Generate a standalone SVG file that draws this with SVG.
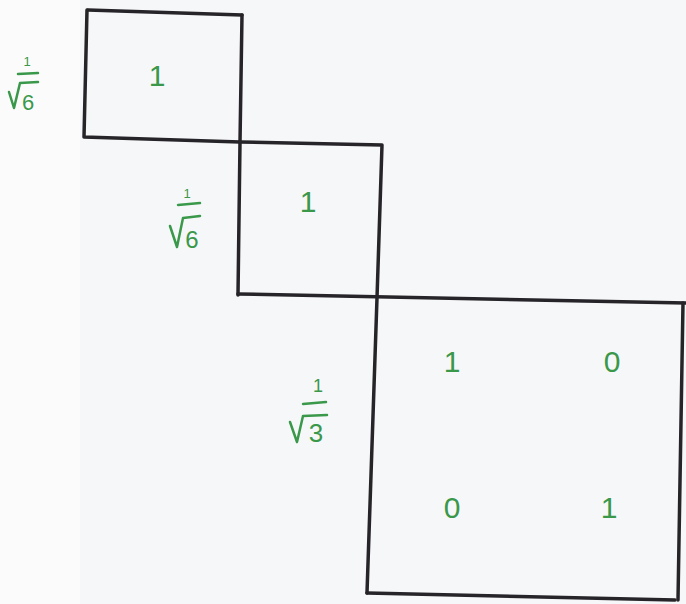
<svg xmlns="http://www.w3.org/2000/svg" width="686" height="604" viewBox="0 0 686 604">
<style>
.ln{fill:none;stroke:#262428;stroke-width:3.5;stroke-linecap:round;stroke-linejoin:round}
.g{fill:#3a984a;font-family:"Liberation Sans",Arial,sans-serif;text-anchor:middle}
.bar{stroke:#3a984a;stroke-width:2.5;stroke-linecap:round}
.rad{fill:none;stroke:#3a984a;stroke-width:2.5;stroke-linecap:round;stroke-linejoin:round}
</style>
<rect width="686" height="604" fill="#f6f7f9"/>
<rect x="0" y="0" width="80" height="604" fill="#fbfbfc"/>
<g id="connectors">
<path class="ln" d="M88 10 L242 15"/>
<path class="ln" d="M87 10 L84 137 L240 142"/>
<path class="ln" d="M242 15 L240 142 L238 295"/>
<path class="ln" d="M240 142 L382 145 L377 298 L367 593"/>
<path class="ln" d="M238 294 L686 303"/>
<path class="ln" d="M367 593 L675 600"/>
<path class="ln" d="M683 303 L678 600"/>
</g>
<g id="box1">
<text class="g" x="157" y="86" font-size="30">1</text>
</g>
<g id="box2">
<text class="g" x="308" y="212" font-size="30">1</text>
</g>
<g id="box3">
<text class="g" x="452" y="372" font-size="30">1</text>
<text class="g" x="612" y="372" font-size="30">0</text>
<text class="g" x="452" y="518" font-size="30">0</text>
<text class="g" x="609" y="518" font-size="30">1</text>
</g>
<g id="label1">
<text class="g" x="27" y="66" font-size="13">1</text>
<line class="bar" x1="18" y1="74" x2="38" y2="73"/>
<path class="rad" d="M9 92 L14 108 L20 83 L38 82"/>
<text class="g" x="28" y="110" font-size="22">6</text>
</g>
<g id="label2">
<text class="g" x="187" y="198" font-size="13">1</text>
<line class="bar" x1="178" y1="205" x2="200" y2="203"/>
<path class="rad" d="M170 226 L177 247 L183 218 L200 216"/>
<text class="g" x="192" y="248" font-size="24">6</text>
</g>
<g id="label3">
<text class="g" x="318" y="392" font-size="18">1</text>
<line class="bar" x1="303" y1="404" x2="326" y2="402"/>
<path class="rad" d="M290 422 L297 442 L303 416 L327 415"/>
<text class="g" x="316" y="442" font-size="26">3</text>
</g>
</svg>
